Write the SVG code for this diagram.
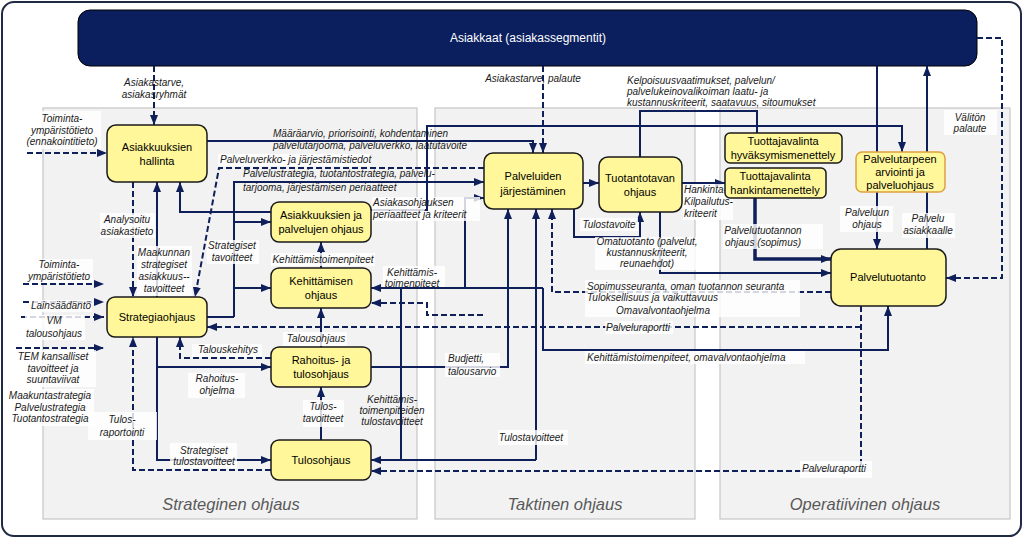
<svg xmlns="http://www.w3.org/2000/svg" width="1024" height="538" viewBox="0 0 1024 538">
<defs>
<marker id="a" markerWidth="10" markerHeight="8" refX="10" refY="4" orient="auto" markerUnits="userSpaceOnUse"><path d="M0,0 L10,4 L0,8 z" fill="#0f1f5a"/></marker>
<style>
.s{fill:none;stroke:#0f1f5a;stroke-width:2}
.t{stroke-width:3.5}
.d{fill:none;stroke:#0f1f5a;stroke-width:2;stroke-dasharray:6 3}
.n{fill:#fff799;stroke:#1a1a1a;stroke-width:1.5}
.nt{font-family:"Liberation Sans",Arial,sans-serif;font-size:11px;fill:#000;text-anchor:middle}
.l{font-family:"Liberation Sans",Arial,sans-serif;font-size:10px;font-style:italic;fill:#1a1a1a}
.c{text-anchor:middle}
.bg{fill:#fff;opacity:0.82}
.pn{fill:#f2f2f2;stroke:#c6c6c6;stroke-width:1.2}
.pl{font-family:"Liberation Sans",Arial,sans-serif;font-size:16.5px;font-style:italic;fill:#595959;text-anchor:middle}
</style>
</defs>
<rect x="2" y="2" width="1019" height="534" rx="12" fill="#fff" stroke="#1f2a44" stroke-width="2"/>
<g id="panels">
<rect class="pn" x="43" y="108" width="374" height="411"/>
<rect class="pn" x="435" y="108" width="260" height="411"/>
<rect class="pn" x="720" y="108" width="290" height="411"/>
<text class="pl" x="231" y="510">Strateginen ohjaus</text>
<text class="pl" x="565" y="510">Taktinen ohjaus</text>
<text class="pl" x="865" y="510">Operatiivinen ohjaus</text>
</g>
<g id="asiakkaat">
<rect x="78" y="10" width="899" height="56" rx="12" fill="#0b1f5e" stroke="#000" stroke-width="1"/>
<text x="528" y="42" font-family="Liberation Sans,Arial,sans-serif" font-size="12" fill="#fff" text-anchor="middle">Asiakkaat (asiakassegmentit)</text>
</g>
<g id="connectors" marker-end="url(#a)">
<path class="s" d="M207,141 H533 V153"/>
<path class="s" d="M371,210 H427 V126 H902 V152"/>
<path class="s" d="M583,183 H599"/>
<path class="s" d="M682,183 H725"/>
<path class="s" d="M574,209 V237 H640 V212"/>
<path class="s" d="M660,212 V273 H831"/>
<path class="s t" d="M755,198 V259 H831"/>
<path class="s" d="M640,157 V111 H757 V133" marker-end="none"/>
<path class="s" d="M877,66 V249"/>
<path class="s" d="M927,249 V66"/>
<path class="s" d="M543,288 H371"/>
<path class="s" d="M543,288 V350 H888 V306"/>
<path class="s" d="M465,288 V198 H484"/>
<path class="s" d="M401,288 V460" marker-end="none"/>
<path class="s" d="M536,460 V209"/>
<path class="s" d="M536,460 H371"/>
<path class="s" d="M371,367 H508 V209"/>
<path class="s" d="M207,317 H234" stroke-width="4.5" marker-end="none"/>
<path class="s" d="M234,317 V182 H484" stroke-width="2.5"/>
<path class="s" d="M234,222 H271"/>
<path class="s" d="M234,288 H271"/>
<path class="s" d="M271,212 H180 V182"/>
<path class="s" d="M157,297 V182"/>
<path class="s" d="M157,337 V460 H271"/>
<path class="s" d="M157,367 H271"/>
<path class="s" d="M321,268 V242"/>
<path class="s" d="M321,347 V308"/>
<path class="s" d="M321,440 V387"/>
<path class="d" d="M154,66 V125"/>
<path class="d" d="M543,66 V153"/>
<path class="d" d="M27,153 H107"/>
<path class="d" d="M484,168 H219 L195,297"/>
<path class="d" d="M133,182 V297"/>
<path class="d" d="M23,284 H104"/>
<path class="d" d="M23,302 H104"/>
<path class="d" d="M21,317 H104"/>
<path class="d" d="M16,348 H104"/>
<path class="d" d="M271,358 H180 V337"/>
<path class="d" d="M271,470 H133 V337"/>
<path class="d" d="M861,306 V471 H371"/>
<path class="d" d="M861,327 H207"/>
<path class="d" d="M831,292 H552 V209"/>
<path class="d" d="M483,315 H427 V303 H371"/>
<path class="d" d="M977,38 H1002 V278 H946"/>
</g>
<g id="labels">
<rect class="bg" x="25" y="111" width="76" height="38"/>
<rect class="bg" x="218" y="154" width="152" height="12"/>
<rect class="bg" x="372" y="197" width="53" height="24"/>
<rect class="bg" x="430" y="197" width="50" height="24"/>
<rect class="bg" x="100" y="213" width="55" height="25"/>
<rect class="bg" x="137" y="246" width="55" height="50"/>
<rect class="bg" x="207" y="240" width="52" height="24"/>
<rect class="bg" x="25" y="259" width="68" height="24"/>
<rect class="bg" x="30" y="300" width="62" height="12"/>
<rect class="bg" x="25" y="315" width="60" height="25"/>
<rect class="bg" x="16" y="350" width="80" height="37"/>
<rect class="bg" x="8" y="389" width="86" height="37"/>
<rect class="bg" x="88" y="412" width="69" height="28"/>
<rect class="bg" x="188" y="373" width="57" height="25"/>
<rect class="bg" x="170" y="443" width="67" height="25"/>
<rect class="bg" x="192" y="344" width="70" height="13"/>
<rect class="bg" x="283" y="332" width="64" height="14"/>
<rect class="bg" x="271" y="253" width="104" height="13"/>
<rect class="bg" x="383" y="266" width="62" height="21"/>
<rect class="bg" x="303" y="400" width="41" height="27"/>
<rect class="bg" x="445" y="353" width="55" height="24"/>
<rect class="bg" x="498" y="430" width="70" height="15"/>
<rect class="bg" x="580" y="218" width="58" height="13"/>
<rect class="bg" x="683" y="184" width="50" height="36"/>
<rect class="bg" x="595" y="237" width="103" height="33"/>
<rect class="bg" x="723" y="224" width="100" height="25"/>
<rect class="bg" x="585" y="280" width="215" height="37"/>
<rect class="bg" x="605" y="321" width="68" height="13"/>
<rect class="bg" x="585" y="351" width="220" height="13"/>
<rect class="bg" x="800" y="461" width="72" height="17"/>
<rect class="bg" x="944" y="110" width="53" height="25"/>
<rect class="bg" x="840" y="206" width="53" height="26"/>
<rect class="bg" x="902" y="213" width="53" height="25"/>
<text class="l c" x="154" y="86">Asiakastarve,</text>
<text class="l c" x="154" y="98">asiakasryhmät</text>
<text class="l c" x="533" y="82">Asiakastarve, palaute</text>
<text class="l" x="627" y="84">Kelpoisuusvaatimukset, palvelun/</text>
<text class="l" x="627" y="95">palvelukeinovalikoiman laatu- ja</text>
<text class="l" x="627" y="106">kustannuskriteerit, saatavuus, sitoumukset</text>
<text class="l c" x="62" y="122">Toiminta-</text>
<text class="l c" x="62" y="134">ympäristötieto</text>
<text class="l c" x="62" y="145">(ennakointitieto)</text>
<text class="l" x="273" y="137">Määräarvio, priorisointi, kohdentaminen</text>
<text class="l" x="273" y="149">palvelutarjooma, palveluverkko, laatutavoite</text>
<text class="l" x="220" y="163">Palveluverkko- ja järjestämistiedot</text>
<text class="l" x="243" y="177">Palvelustrategia, tuotantostrategia, palvelu-</text>
<text class="l" x="243" y="191">tarjooma, järjestämisen periaatteet</text>
<text class="l" x="373" y="206">Asiakasohjauksen</text>
<text class="l" x="373" y="218">periaatteet ja kriteerit</text>
<text class="l c" x="127" y="223">Analysoitu</text>
<text class="l c" x="127" y="235">asiakastieto</text>
<text class="l c" x="164" y="256">Maakunnan</text>
<text class="l c" x="164" y="268">strategiset</text>
<text class="l c" x="164" y="280">asiakkuus--</text>
<text class="l c" x="164" y="292">tavoitteet</text>
<text class="l c" x="232" y="249">Strategiset</text>
<text class="l c" x="232" y="261">tavoitteet</text>
<text class="l c" x="59" y="268">Toiminta-</text>
<text class="l c" x="59" y="280">ympäristötieto</text>
<text class="l c" x="61" y="309">Lainsäädäntö</text>
<text class="l c" x="54" y="324">VM</text>
<text class="l c" x="54" y="337">talousohjaus</text>
<text class="l c" x="53" y="360">TEM kansalliset</text>
<text class="l c" x="53" y="372">tavoitteet ja</text>
<text class="l c" x="53" y="383">suuntaviivat</text>
<text class="l c" x="50" y="399">Maakuntastrategia</text>
<text class="l c" x="50" y="411">Palvelustrategia</text>
<text class="l c" x="50" y="422">Tuotantostrategia</text>
<text class="l c" x="122" y="423">Tulos-</text>
<text class="l c" x="122" y="436">raportointi</text>
<text class="l c" x="217" y="382">Rahoitus-</text>
<text class="l c" x="217" y="394">ohjelma</text>
<text class="l c" x="204" y="454">Strategiset</text>
<text class="l c" x="204" y="465">tulostavoitteet</text>
<text class="l c" x="228" y="353">Talouskehitys</text>
<text class="l c" x="316" y="342">Talousohjaus</text>
<text class="l c" x="323" y="263">Kehittämistoimenpiteet</text>
<text class="l c" x="412" y="276">Kehittämis-</text>
<text class="l c" x="412" y="287">toimenpiteet</text>
<text class="l c" x="323" y="410">Tulos-</text>
<text class="l c" x="323" y="422">tavoitteet</text>
<text class="l c" x="392" y="403">Kehittämis-</text>
<text class="l c" x="392" y="414">toimenpiteiden</text>
<text class="l c" x="392" y="425">tulostavoitteet</text>
<text class="l" x="448" y="362">Budjetti,</text>
<text class="l" x="448" y="375">talousarvio</text>
<text class="l c" x="531" y="441">Tulostavoitteet</text>
<text class="l c" x="609" y="228">Tulostavoite</text>
<text class="l" x="684" y="193">Hankinta-</text>
<text class="l" x="684" y="205">Kilpailutus-</text>
<text class="l" x="684" y="217">kriteerit</text>
<text class="l c" x="647" y="245">Omatuotanto (palvelut,</text>
<text class="l c" x="647" y="256">kustannuskriteerit,</text>
<text class="l c" x="647" y="267">reunaehdot)</text>
<text class="l c" x="763" y="234">Palvelutuotannon</text>
<text class="l c" x="763" y="246">ohjaus (sopimus)</text>
<text class="l" x="587" y="290">Sopimusseuranta, oman tuotannon seuranta</text>
<text class="l" x="587" y="301">Tuloksellisuus ja vaikuttavuus</text>
<text class="l c" x="663" y="314">Omavalvontaohjelma</text>
<text class="l c" x="638" y="331">Palveluraportti</text>
<text class="l" x="587" y="361">Kehittämistoimenpiteet, omavalvontaohjelma</text>
<text class="l c" x="834" y="472">Palveluraportti</text>
<text class="l c" x="970" y="121">Välitön</text>
<text class="l c" x="970" y="132">palaute</text>
<text class="l c" x="867" y="216">Palveluun</text>
<text class="l c" x="867" y="228">ohjaus</text>
<text class="l c" x="928" y="222">Palvelu</text>
<text class="l c" x="928" y="234">asiakkaalle</text>
</g>
<g id="n-asiakkuuksien-hallinta"><rect class="n" x="107" y="125" width="100" height="57" rx="9"/><text class="nt" x="157" y="151">Asiakkuuksien</text><text class="nt" x="157" y="165">hallinta</text></g>
<g id="n-strategiaohjaus"><rect class="n" x="107" y="297" width="100" height="40" rx="8"/><text class="nt" x="157" y="321">Strategiaohjaus</text></g>
<g id="n-asiakkuuksien-palvelujen"><rect class="n" x="271" y="202" width="100" height="40" rx="8"/><text class="nt" x="321" y="219">Asiakkuuksien ja</text><text class="nt" x="321" y="233">palvelujen  ohjaus</text></g>
<g id="n-kehittamisen"><rect class="n" x="271" y="268" width="100" height="40" rx="8"/><text class="nt" x="321" y="285">Kehittämisen</text><text class="nt" x="321" y="299">ohjaus</text></g>
<g id="n-rahoitus"><rect class="n" x="271" y="347" width="100" height="40" rx="8"/><text class="nt" x="321" y="364">Rahoitus-  ja</text><text class="nt" x="321" y="378">tulosohjaus</text></g>
<g id="n-tulosohjaus"><rect class="n" x="271" y="440" width="100" height="40" rx="8"/><text class="nt" x="321" y="464">Tulosohjaus</text></g>
<g id="n-palveluiden"><rect class="n" x="484" y="153" width="99" height="56" rx="9"/><text class="nt" x="533" y="180">Palveluiden</text><text class="nt" x="533" y="195">järjestäminen</text></g>
<g id="n-tuotantotavan"><rect class="n" x="599" y="157" width="83" height="55" rx="9"/><text class="nt" x="640" y="182">Tuotantotavan</text><text class="nt" x="640" y="196">ohjaus</text></g>
<g id="n-hyvaksymis"><rect class="n" x="725" y="133" width="117" height="30" rx="5"/><text class="nt" x="783" y="145">Tuottajavalinta</text><text class="nt" x="783" y="159">hyväksymismenettely</text></g>
<g id="n-hankinta"><rect class="n" x="725" y="168" width="101" height="30" rx="5"/><text class="nt" x="775" y="180">Tuottajavalinta</text><text class="nt" x="775" y="194">hankintamenettely</text></g>
<g id="n-palvelutarpeen"><rect class="n" x="856" y="152" width="89" height="40" rx="6" style="stroke:#e0a040"/><text class="nt" x="900" y="163">Palvelutarpeen</text><text class="nt" x="900" y="176">arviointi ja</text><text class="nt" x="900" y="189">palveluohjaus</text></g>
<g id="n-palvelutuotanto"><rect class="n" x="831" y="249" width="115" height="57" rx="10"/><text class="nt" x="888" y="281">Palvelutuotanto</text></g>
</svg>
